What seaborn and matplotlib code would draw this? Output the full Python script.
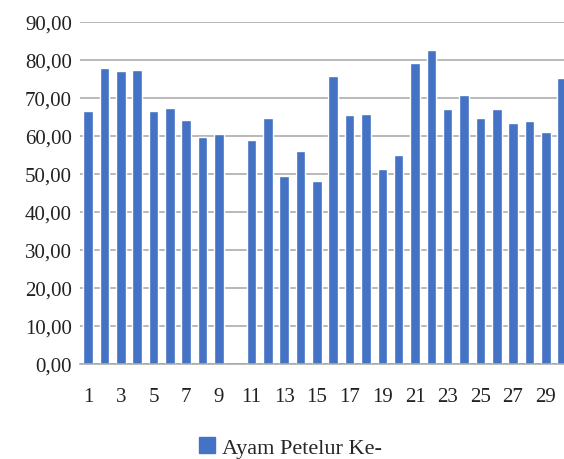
import numpy as np
import pandas as pd
import seaborn as sns
import matplotlib.pyplot as plt
from matplotlib.ticker import FuncFormatter
from matplotlib.patches import Patch

# data (hen number 10 has no bar)
hens = list(range(1, 31))
values = [66.5, 77.7, 76.9, 77.3, 66.6, 67.2, 64.0, 59.7, 60.4, np.nan,
          58.9, 64.7, 49.4, 55.9, 48.0, 75.7, 65.4, 65.7, 51.2, 54.9,
          79.1, 82.6, 67.0, 70.7, 64.6, 66.9, 63.3, 63.8, 61.0, 75.2]
series_name = "Ayam Petelur Ke-"
bar_color = "#4472C4"

df = pd.DataFrame({"hen": [str(h) for h in hens], "value": values})

sns.set_theme(style="white")
plt.rcParams['font.family'] = ['Liberation Serif', 'DejaVu Serif']

fig = plt.figure(figsize=(5.64, 4.6), dpi=100)
ax = fig.add_axes([0.142, 0.207, 0.869, 0.744])

sns.barplot(data=df, x="hen", y="value", order=[str(h) for h in hens],
            color=bar_color, saturation=1, width=0.59, ax=ax)

ax.set_ylim(0, 90)
ax.set_yticks(np.arange(0, 91, 10))
ax.yaxis.set_major_formatter(FuncFormatter(lambda v, p: f"{v:.2f}".replace(".", ",")))
ax.set_xlim(-0.5, 29.5)
ax.set_xticks(range(0, 30, 2))
ax.set_xticklabels([str(h) for h in hens[::2]])
ax.tick_params(axis="both", length=0, labelsize=15, colors="#222222")
ax.tick_params(axis="x", pad=17)
ax.tick_params(axis="y", pad=6)
ax.set_xlabel("")
ax.set_ylabel("")

ax.grid(axis="y", color="#a6a6a6", linewidth=1.1)
ax.set_axisbelow(True)
for side in ["top", "right", "left"]:
    ax.spines[side].set_visible(False)
ax.spines["bottom"].set_color("#a6a6a6")
ax.spines["bottom"].set_linewidth(1.1)

handle = Patch(facecolor=bar_color, edgecolor=bar_color)
fig.legend([handle], [series_name], loc="center", bbox_to_anchor=(0.515, 0.025),
           frameon=False, fontsize=16, handlelength=0.7, handleheight=0.7,
           handletextpad=0.3)

fig.savefig("out.png", dpi=100)
